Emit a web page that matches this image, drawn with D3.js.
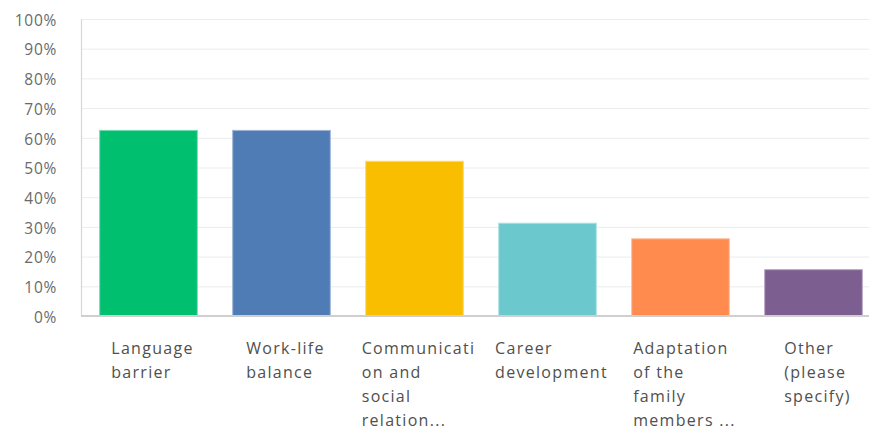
<!DOCTYPE html>
<html>
<head>
<meta charset="utf-8">
<script src="https://cdn.jsdelivr.net/npm/d3@7"></script>
<style>
  body { margin: 0; background: #fff; }
  svg text { font-family: "Open Sans", sans-serif; }
</style>
</head>
<body>
<svg id="chart" width="869" height="430"></svg>
<script>
// answer choices, as the survey tool wrapped them under the bars
const categories = [
  'Language barrier',
  'Work-life balance',
  'Communication and social relations',
  'Career development',
  'Adaptation of the family members',
  'Other (please specify)'
];
const labelLines = [
  ['Language', 'barrier'],
  ['Work-life', 'balance'],
  ['Communicati', 'on and', 'social', 'relation...'],
  ['Career', 'development'],
  ['Adaptation', 'of the', 'family', 'members ...'],
  ['Other', '(please', 'specify)']
];
const values = [62.5, 62.5, 52.1, 31.25, 26.0, 15.6];
const colors = ['#00bf6f', '#507cb6', '#f9be00', '#6bc8cd', '#ff8b4f', '#7d5e90'];
const yTicks = [0, 10, 20, 30, 40, 50, 60, 70, 80, 90, 100];

const svg = d3.select('#chart');
const plotLeft = 81, plotRight = 869, plotTop = 19, plotBottom = 316;

const x = d3.scaleBand()
  .domain(categories)
  .range([82, 880])
  .paddingInner(0.266)
  .paddingOuter(0.133);

const y = d3.scaleLinear()
  .domain([0, 100])
  .range([plotBottom, plotTop]);

// grid
svg.append('g')
  .selectAll('line')
  .data(yTicks.filter(d => d > 0))
  .join('line')
  .attr('x1', plotLeft).attr('x2', plotRight)
  .attr('y1', d => y(d) + 0.5).attr('y2', d => y(d) + 0.5)
  .attr('stroke', '#ececec')
  .attr('stroke-width', 1);

// y axis
const yAxis = svg.append('g')
  .attr('transform', `translate(${plotLeft},0)`)
  .call(d3.axisLeft(y).tickValues(yTicks).tickFormat(d => d + '%').tickSize(0).tickPadding(24));
yAxis.select('.domain').attr('stroke', '#d6d6d6').attr('stroke-width', 1.2);
yAxis.selectAll('text')
  .attr('fill', '#6a6a6a')
  .attr('dy', '0.4em')
  .style('font-size', '15.5px')
  .style('letter-spacing', '0.7px');

// bars
svg.append('g')
  .selectAll('rect')
  .data(values)
  .join('rect')
  .attr('x', (d, i) => x(categories[i]))
  .attr('y', d => y(d))
  .attr('width', x.bandwidth())
  .attr('height', d => plotBottom - y(d))
  .attr('fill', (d, i) => colors[i])
  .attr('stroke', (d, i) => d3.interpolateRgb(colors[i], '#fff')(0.45))
  .attr('stroke-width', 1);

// baseline
svg.append('line')
  .attr('x1', plotLeft).attr('x2', plotRight)
  .attr('y1', plotBottom).attr('y2', plotBottom)
  .attr('stroke', '#cfcfcf')
  .attr('stroke-width', 2);

// category labels: left aligned lines, block roughly centred under bar
const labels = svg.append('g')
  .selectAll('text')
  .data(labelLines)
  .join('text')
  .attr('fill', '#4f4f4f')
  .style('font-size', '16px')
  .style('letter-spacing', '1.3px');

labels.selectAll('tspan')
  .data(d => d)
  .join('tspan')
  .attr('y', (d, i) => 353.5 + i * 24.2)
  .text(d => d);

labels.each(function (d, i) {
  const t = d3.select(this);
  let w = 0;
  t.selectAll('tspan').each(function () { w = Math.max(w, this.getComputedTextLength()); });
  const cx = x(categories[i]) + x.bandwidth() / 2;
  t.selectAll('tspan').attr('x', cx - w / 2 + 4);
});
</script>
</body>
</html>
